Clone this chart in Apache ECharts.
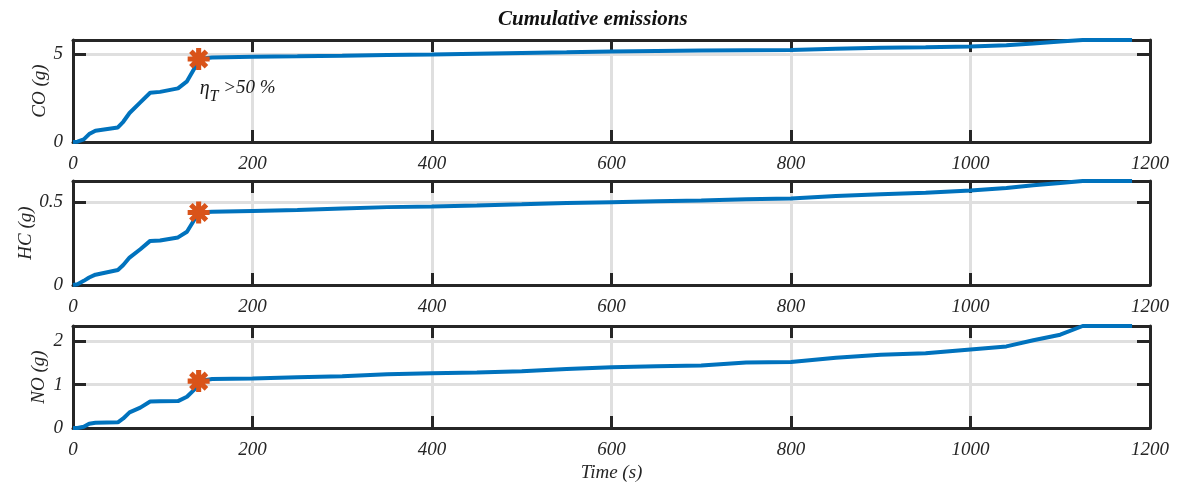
<!DOCTYPE html>
<html>
<head>
<meta charset="utf-8">
<script src="https://cdn.jsdelivr.net/npm/echarts@6/dist/echarts.min.js"></script>
<style>
html,body{margin:0;padding:0;background:#fff;}
#chart{width:1177px;height:483px;}
</style>
</head>
<body>
<div id="chart"></div>
<script>
// ---------------- data ----------------
const time = [0, 5, 12, 18, 25, 50, 56, 63, 75, 86, 97, 117, 127, 136, 140, 155, 200, 250, 300, 350, 400, 450, 500, 550, 600, 650, 700, 750, 800, 850, 900, 950, 1000, 1040, 1070, 1100, 1125, 1180];
const coValues = [0, 0.02, 0.15, 0.45, 0.64, 0.83, 1.15, 1.65, 2.25, 2.8, 2.85, 3.05, 3.45, 4.25, 4.72, 4.8, 4.85, 4.87, 4.9, 4.94, 4.97, 5.02, 5.06, 5.1, 5.15, 5.18, 5.21, 5.22, 5.23, 5.3, 5.36, 5.39, 5.43, 5.5, 5.6, 5.72, 5.8, 5.8];
const hcValues = [0, 0.005, 0.025, 0.045, 0.062, 0.09, 0.12, 0.165, 0.215, 0.265, 0.268, 0.286, 0.32, 0.40, 0.436, 0.44, 0.445, 0.45, 0.46, 0.468, 0.472, 0.478, 0.485, 0.493, 0.498, 0.503, 0.508, 0.515, 0.52, 0.535, 0.545, 0.555, 0.568, 0.583, 0.6, 0.613, 0.625, 0.625];
const noValues = [0, 0, 0.03, 0.1, 0.12, 0.13, 0.22, 0.36, 0.47, 0.61, 0.615, 0.62, 0.72, 0.9, 1.08, 1.13, 1.14, 1.17, 1.19, 1.24, 1.26, 1.28, 1.31, 1.36, 1.4, 1.42, 1.44, 1.51, 1.52, 1.62, 1.69, 1.72, 1.81, 1.88, 2.02, 2.15, 2.35, 2.35];
const thresholdTime = 140;               // eta_T > 50 % instant
const yNames = ['CO (g)', 'HC (g)', 'NO (g)'];
const yMax = [5.8, 0.625, 2.35];
const yInterval = [5, 0.5, 1];
const xMin = 0, xMax = 1200, xInterval = 200;
const titleText = 'Cumulative emissions';
const xName = 'Time (s)';
const annotation = '{e|η}{s|T}{n| >50 %}';

// ---------------- layout / style ----------------
const layout = [
  {top: 40, height: 102, nameGap: 24},
  {top: 181, height: 104, nameGap: 38},
  {top: 326, height: 102, nameGap: 25}
];
const FONT = 'Liberation Serif';
const DARK = '#262626';
const GRIDC = '#dfdfdf';
const BLUE = '#0072BD';
const ORANGE = '#D95319';
const W = 2.3, D1 = 8.7, D2 = 5.45;
const STAR = 'path://' +
  `M-${W},-10L${W},-10L${W},10L-${W},10Z` +
  `M10,-${W}L10,${W}L-10,${W}L-10,-${W}Z` +
  `M${D2},-${D1}L${D1},-${D2}L-${D2},${D1}L-${D1},${D2}Z` +
  `M-${D1},-${D2}L-${D2},-${D1}L${D1},${D2}L${D2},${D1}Z`;

const valuesList = [coValues, hcValues, noValues];
const txt = {fontFamily: FONT, fontStyle: 'italic', fontSize: 19, color: DARK};

const grid = [], xAxis = [], yAxis = [], series = [];
const borderLine = {show: true, onZero: false, lineStyle: {color: DARK, width: 3}};
const borderTick = (len) => ({show: true, inside: true, length: len, lineStyle: {color: DARK, width: 3}});

valuesList.forEach((vals, i) => {
  const L = layout[i];
  grid.push({left: 73, right: 27, top: L.top, height: L.height, show: false, containLabel: false, outerBoundsMode: 'none'});
  const xBase = {gridIndex: i, type: 'value', min: xMin, max: xMax, interval: xInterval};
  xAxis.push(Object.assign({}, xBase, {
    position: 'bottom', z: 1,
    axisLine: borderLine, axisTick: borderTick(12),
    axisLabel: Object.assign({show: true, margin: 12, formatter: v => String(v)}, txt),
    splitLine: {show: false},
    name: i === 2 ? xName : '', nameLocation: 'middle', nameGap: 35, nameMoveOverlap: false,
    nameTextStyle: Object.assign({}, txt)
  }));
  xAxis.push(Object.assign({}, xBase, {
    position: 'top', z: 1,
    axisLine: borderLine, axisTick: borderTick(12),
    axisLabel: {show: false}, splitLine: {show: false}
  }));
  xAxis.push(Object.assign({}, xBase, {
    z: 0, axisLine: {show: false}, axisTick: {show: false}, axisLabel: {show: false},
    splitLine: {show: true, lineStyle: {color: GRIDC, width: 3}}
  }));
  const iv = yInterval[i];
  const yBase = {gridIndex: i, type: 'value', min: 0, max: yMax[i], interval: iv};
  yAxis.push(Object.assign({}, yBase, {
    position: 'left', z: 1,
    axisLine: borderLine, axisTick: borderTick(13),
    axisLabel: Object.assign({show: true, margin: 10,
      formatter: v => (Math.abs(v / iv - Math.round(v / iv)) < 1e-9 ? String(+v.toFixed(3)) : '')}, txt),
    splitLine: {show: false},
    name: yNames[i], nameLocation: 'middle', nameRotate: 90, nameGap: L.nameGap, nameMoveOverlap: false,
    nameTextStyle: Object.assign({}, txt)
  }));
  yAxis.push(Object.assign({}, yBase, {
    position: 'right', z: 1,
    axisLine: borderLine, axisTick: borderTick(13),
    axisLabel: {show: false}, splitLine: {show: false}
  }));
  yAxis.push(Object.assign({}, yBase, {
    z: 0, axisLine: {show: false}, axisTick: {show: false}, axisLabel: {show: false},
    splitLine: {show: true, lineStyle: {color: GRIDC, width: 3}}
  }));

  series.push({
    type: 'line', xAxisIndex: 3 * i, yAxisIndex: 3 * i,
    data: time.map((t, k) => [t, vals[k]]),
    symbol: 'none', showSymbol: false, clip: false, silent: true, z: 3,
    lineStyle: {color: BLUE, width: 4}
  });
  const s = {
    type: 'scatter', xAxisIndex: 3 * i, yAxisIndex: 3 * i,
    data: [[thresholdTime, vals[time.indexOf(thresholdTime)]]],
    symbol: STAR, symbolSize: 22, itemStyle: {color: ORANGE, opacity: 1}, z: 4, silent: true, clip: false
  };
  if (i === 0) {
    s.label = {
      show: true, position: [12, 31], align: 'left', verticalAlign: 'top',
      formatter: annotation,
      rich: {
        e: {fontFamily: FONT, fontStyle: 'italic', fontSize: 20, color: '#1a1a1a', lineHeight: 20, verticalAlign: 'top'},
        s: {fontFamily: FONT, fontStyle: 'italic', fontSize: 16, color: '#1a1a1a', lineHeight: 26, verticalAlign: 'bottom'},
        n: {fontFamily: FONT, fontStyle: 'italic', fontSize: 19, color: '#1a1a1a', lineHeight: 20, verticalAlign: 'top'}
      }
    };
  }
  series.push(s);
});

const chart = echarts.init(document.getElementById('chart'), null, {renderer: 'canvas'});
chart.setOption({
  animation: false,
  backgroundColor: '#ffffff',
  title: {
    text: titleText, left: 498, top: 9, padding: 0,
    textStyle: {fontFamily: FONT, fontStyle: 'italic', fontWeight: 'bold', fontSize: 21, color: '#111'}
  },
  grid, xAxis, yAxis, series
});
</script>
</body>
</html>
